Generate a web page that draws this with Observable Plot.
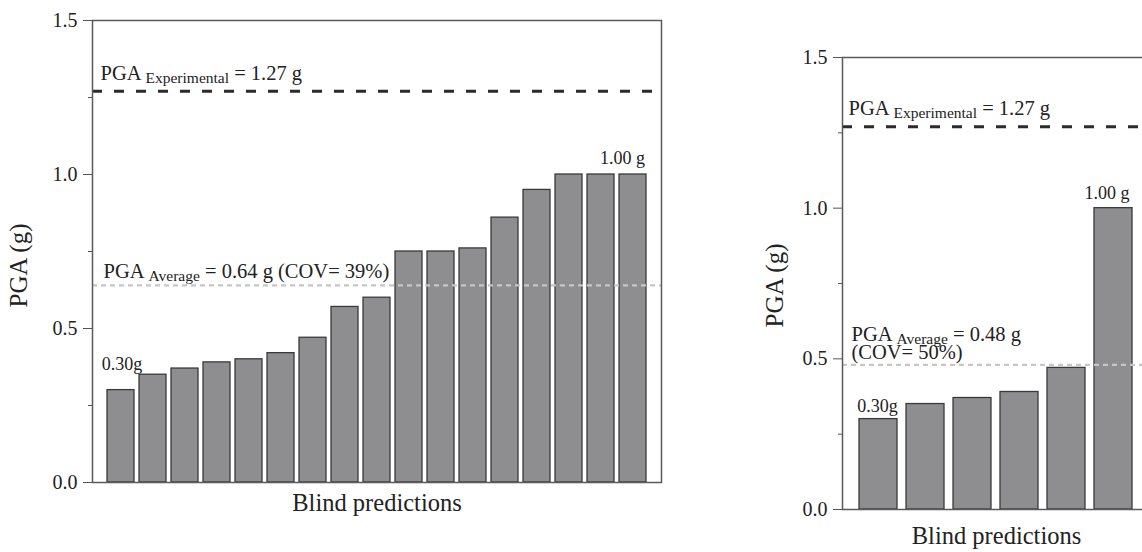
<!DOCTYPE html>
<html><head><meta charset="utf-8">
<script src="https://cdn.jsdelivr.net/npm/d3@7"></script>
<script src="https://cdn.jsdelivr.net/npm/@observablehq/plot@0.6"></script>
<style>
html,body{margin:0;padding:0;background:#fff;}
#wrap{position:relative;width:1142px;height:552px;overflow:hidden;background:#fff;}
#left{position:absolute;left:0;top:0;width:680px;height:552px;}
#right{position:absolute;left:700px;top:0;width:460px;height:552px;}
#wrap svg{max-width:none !important;}
text{white-space:pre;}
</style></head><body><div id="wrap"><div id="left"></div><div id="right"></div></div>
<script>
// ---- data ----
const leftValues = [0.30, 0.35, 0.37, 0.39, 0.40, 0.42, 0.47, 0.57, 0.60, 0.75, 0.75, 0.76, 0.86, 0.95, 1.00, 1.00, 1.00];
const rightValues = [0.30, 0.35, 0.37, 0.39, 0.47, 1.00];
const pgaExperimental = 1.27;
const leftAverage = 0.64;
const leftCOV = 39;
const rightAverage = 0.48;
const rightCOV = 50;
const yMajorTicks = [0, 0.5, 1.0, 1.5];
const yMinorTicks = [0.25, 0.75, 1.25];
const yLabel = "PGA (g)";
const xLabel = "Blind predictions";
const minLabel = "0.30g";
const maxLabel = "1.00 g";

const FONT = "Liberation Serif";
const TXT = "#222";

function subscriptify(svg) {
  svg.querySelectorAll("text").forEach(t => {
    if (t.querySelector("tspan")) return;
    const m = t.textContent.match(/^PGA (Experimental|Average) (.*)$/);
    if (!m) return;
    t.textContent = "";
    const s = d3.select(t);
    s.append("tspan").text("PGA ");
    s.append("tspan").attr("font-size", 15.5).attr("dy", 3).text(m[1]);
    s.append("tspan").attr("dy", -3).text(" " + m[2]);
  });
}

function panel(values, L) {
  const bars = values.map((v, i) => ({i, v}));
  const first = bars[0];
  const last = bars[bars.length - 1];
  const marks = [
    Plot.barY(bars, {x: "i", y: "v", fill: "#8e8e91", stroke: "#3a3a3a", strokeWidth: 1.3}),
    Plot.ruleY([L.avg], {stroke: "#c6c6c6", strokeWidth: 2.2, strokeDasharray: "5,4"}),
    Plot.ruleY([pgaExperimental], {stroke: "#2b2b2b", strokeWidth: 3, strokeDasharray: "10,12"}),
    Plot.frame({stroke: "#5a5a5a", strokeWidth: 1.5}),
    Plot.axisY(yMajorTicks, {tickSize: 9, tickPadding: 6, tickFormat: d3.format(".1f"), fontSize: 20, label: null, stroke: "#555", fill: TXT}),
    Plot.axisY(yMinorTicks, {tickSize: 4, tickFormat: () => "", label: null, stroke: "#555"}),
    Plot.text([pgaExperimental], {y: d => d, frameAnchor: "left", text: d => `PGA Experimental = ${d.toFixed(2)} g`, textAnchor: "start", lineAnchor: "bottom", dx: L.expDx, dy: L.expDy, fontSize: 20.5, fill: TXT}),
    Plot.text([first], {x: "i", y: "v", text: () => minLabel, lineAnchor: "bottom", dx: L.minDx, dy: L.minDy, fontSize: 18, fill: TXT}),
    Plot.text([last], {x: "i", y: "v", text: () => maxLabel, textAnchor: "end", lineAnchor: "bottom", dx: L.maxDx, dy: L.maxDy, fontSize: 18, fill: TXT}),
    Plot.text([yLabel], {frameAnchor: "left", rotate: -90, dx: L.yLabDx, dy: L.yLabDy, textAnchor: "middle", lineAnchor: "middle", fontSize: 25, fill: TXT}),
    Plot.text([xLabel], {frameAnchor: "bottom", lineAnchor: "bottom", dy: L.xLabDy, fontSize: 24.5, fill: TXT})
  ];
  if (L.twoLine) {
    marks.push(Plot.text([L.avg], {y: d => d, frameAnchor: "left", text: d => `PGA Average = ${d.toFixed(2)} g`, textAnchor: "start", lineAnchor: "bottom", dx: L.avgDx, dy: L.avgDy - 18, fontSize: 20.5, fill: TXT}));
    marks.push(Plot.text([L.cov], {y: () => L.avg, frameAnchor: "left", text: d => `(COV= ${d}%)`, textAnchor: "start", lineAnchor: "bottom", dx: L.avgDx, dy: L.avgDy, fontSize: 20.5, fill: TXT}));
  } else {
    marks.push(Plot.text([L.avg], {y: d => d, frameAnchor: "left", text: d => `PGA Average = ${d.toFixed(2)} g (COV= ${L.cov}%)`, textAnchor: "start", lineAnchor: "bottom", dx: L.avgDx, dy: L.avgDy, fontSize: 20.5, fill: TXT}));
  }
  const p = Plot.plot({
    width: L.width, height: 552,
    marginLeft: L.ml, marginRight: L.mr, marginTop: L.mt, marginBottom: L.mb,
    style: {fontFamily: FONT, fontSize: "20px", color: TXT, background: "white", overflow: "visible", maxWidth: "none"},
    x: {type: "band", domain: d3.range(values.length), paddingInner: L.pi, paddingOuter: L.po, axis: null},
    y: {domain: [0, 1.5]},
    marks
  });
  p.style.maxWidth = "none";
  subscriptify(p);
  return p;
}

document.getElementById("left").appendChild(panel(leftValues, {
  width: 680, ml: 92, mr: 19, mt: 20, mb: 70, pi: 0.17, po: 0.32,
  avg: leftAverage, cov: leftCOV, twoLine: false,
  expDx: 8, expDy: -11, avgDx: 11, avgDy: -7,
  minDx: 1, minDy: -20, maxDx: 12, maxDy: -11,
  yLabDx: -74, yLabDy: 14, xLabDy: 28
}));

document.getElementById("right").appendChild(panel(rightValues, {
  width: 460, ml: 142, mr: 10, mt: 57, mb: 43, pi: 0.19, po: 0.37,
  avg: rightAverage, cov: rightCOV, twoLine: true,
  expDx: 6, expDy: -12, avgDx: 9, avgDy: -6,
  minDx: -1, minDy: -7, maxDx: 16, maxDy: -9,
  yLabDx: -68, yLabDy: 2, xLabDy: 34
}));
</script></body></html>
